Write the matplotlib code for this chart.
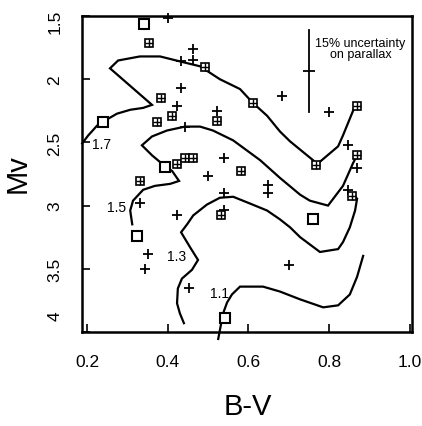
import matplotlib
matplotlib.use("Agg")
import matplotlib.pyplot as plt
import matplotlib.transforms as mtransforms

plt.rcParams['font.family'] = ['Liberation Sans', 'DejaVu Sans']

# ---- data ----
plus_bv = [0.401, 0.463, 0.433, 0.463, 0.433, 0.423, 0.522, 0.443, 0.539, 0.500,
           0.648, 0.648, 0.539, 0.331, 0.539, 0.423, 0.351, 0.344, 0.453, 0.700,
           0.683, 0.799, 0.846, 0.869, 0.846]
plus_mv = [1.516, 1.758, 1.859, 1.852, 2.070, 2.211, 2.250, 2.375, 2.625, 2.766,
           2.836, 2.898, 2.898, 2.977, 3.031, 3.078, 3.383, 3.500, 3.648, 3.469,
           2.133, 2.258, 2.523, 2.703, 2.875]

boxed_bv = [0.354, 0.492, 0.383, 0.373, 0.411, 0.522, 0.611, 0.869, 0.869, 0.767,
            0.423, 0.443, 0.463, 0.581, 0.331, 0.532, 0.856]
boxed_mv = [1.711, 1.906, 2.148, 2.336, 2.289, 2.328, 2.188, 2.211, 2.602, 2.680,
            2.672, 2.625, 2.625, 2.727, 2.805, 3.078, 2.922]

open_bv = [0.341, 0.240, 0.393, 0.324, 0.760, 0.542]
open_mv = [1.563, 2.336, 2.695, 3.242, 3.109, 3.891]

iso17_bv = [0.188, 0.203, 0.225, 0.240, 0.274, 0.307, 0.339, 0.361, 0.257, 0.277,
            0.331, 0.381, 0.430, 0.480, 0.529, 0.579, 0.611, 0.646, 0.678, 0.703,
            0.760, 0.770, 0.822, 0.834, 0.864]
iso17_mv = [2.508, 2.445, 2.367, 2.336, 2.273, 2.242, 2.227, 2.203, 1.914, 1.852,
            1.820, 1.820, 1.859, 1.898, 2.000, 2.078, 2.188, 2.289, 2.414, 2.492,
            2.641, 2.672, 2.531, 2.445, 2.211]

iso15_bv = [0.312, 0.307, 0.314, 0.339, 0.368, 0.406, 0.428, 0.411, 0.393, 0.361,
            0.336, 0.361, 0.398, 0.443, 0.480, 0.512, 0.562, 0.629, 0.678, 0.728,
            0.752, 0.797, 0.834, 0.846, 0.859, 0.869]
iso15_mv = [3.148, 3.039, 2.961, 2.875, 2.844, 2.828, 2.805, 2.727, 2.688, 2.602,
            2.523, 2.453, 2.406, 2.375, 2.375, 2.406, 2.484, 2.641, 2.781, 2.914,
            2.961, 3.000, 2.844, 2.758, 2.664, 2.602]

iso13_bv = [0.440, 0.430, 0.423, 0.425, 0.435, 0.460, 0.475, 0.455, 0.433, 0.448,
            0.463, 0.497, 0.529, 0.562, 0.604, 0.646, 0.678, 0.703, 0.728, 0.777,
            0.822, 0.834, 0.851, 0.864, 0.869, 0.856]
iso13_mv = [3.930, 3.852, 3.773, 3.656, 3.578, 3.508, 3.430, 3.328, 3.211, 3.148,
            3.078, 2.992, 2.938, 2.930, 2.984, 3.039, 3.109, 3.172, 3.250, 3.367,
            3.344, 3.289, 3.172, 3.039, 2.945, 2.914]

iso11_bv = [0.525, 0.532, 0.539, 0.547, 0.559, 0.579, 0.636, 0.678, 0.728, 0.785,
            0.822, 0.851, 0.869, 0.884]
iso11_mv = [4.055, 3.938, 3.836, 3.766, 3.703, 3.641, 3.641, 3.680, 3.742, 3.805,
            3.789, 3.703, 3.563, 3.398]

iso_labels = ["1.7", "1.5", "1.3", "1.1"]
iso_label_bv = [0.237, 0.274, 0.423, 0.529]
iso_label_mv = [2.516, 3.008, 3.398, 3.688]

err_bv = 0.7495
err_mv = 1.9375
err_lo = 1.609
err_hi = 2.258

xticks = [0.2, 0.4, 0.6, 0.8, 1.0]
xticklabels = ["0.2", "0.4", "0.6", "0.8", "1.0"]
yticks = [1.5, 2, 2.5, 3, 3.5, 4]
yticklabels = ["1.5", "2", "2.5", "3", "3.5", "4"]
# where the printed y labels sit (end labels are nudged inward in the original)
ylabel_pos = [1.54, 2.0, 2.5, 3.0, 3.5, 3.87]

# ---- figure ----
fig = plt.figure(figsize=(4.22, 4.27), dpi=100)
ax = fig.add_axes([82/422, 1 - 333/427, (412-82)/422, (333-17)/427])

for bv, mv in [(iso17_bv, iso17_mv), (iso15_bv, iso15_mv),
               (iso13_bv, iso13_mv), (iso11_bv, iso11_mv)]:
    ax.plot(bv, mv, color='black', lw=1.6, clip_on=False, solid_joinstyle='miter')

for t, x, y in zip(iso_labels, iso_label_bv, iso_label_mv):
    ax.text(x, y, t, fontsize=10, ha='center', va='center', color='black')

ax.plot(plus_bv, plus_mv, linestyle='none', marker='+', ms=7.5, mew=1.3,
        color='black', clip_on=False)
ax.plot(boxed_bv, boxed_mv, linestyle='none', marker='s', ms=6.2, mew=1.2,
        mfc='white', mec='black')
ax.plot(boxed_bv, boxed_mv, linestyle='none', marker='+', ms=6.2, mew=1.0,
        color='black')
ax.plot(open_bv, open_mv, linestyle='none', marker='s', ms=7, mew=1.5,
        mfc='white', mec='black')

# uncertainty bar
ax.plot([err_bv, err_bv], [err_lo, err_hi], color='black', lw=1.3)
ax.plot([err_bv], [err_mv], marker='_', ms=8, mew=1.3, color='black')
ax.text(0.877, 1.711, "15% uncertainty", fontsize=9, ha='center', va='center')
ax.text(0.877, 1.797, "on parallax", fontsize=9, ha='center', va='center')

ax.set_xlim(0.1876, 1.005)
ax.set_ylim(3.977, 1.508)
ax.set_xticks(xticks)
ax.set_xticklabels(xticklabels)
ax.set_yticks(yticks)
ax.set_yticklabels([])
ax.tick_params(direction='in', length=6, width=1.2, labelsize=12.5, pad=16)
for s in ax.spines.values():
    s.set_linewidth(1.8)

trans = mtransforms.blended_transform_factory(ax.transAxes, ax.transData)
for t, y in zip(yticklabels, ylabel_pos):
    ax.text(-0.082, y, t, transform=trans, rotation=90, fontsize=12.5,
            ha='center', va='center', clip_on=False)

ax.set_xlabel("B-V", fontsize=21, va='center')
ax.xaxis.set_label_coords(0.503, -0.234)
ax.set_ylabel("Mv", fontsize=21, va='center')
ax.yaxis.set_label_coords(-0.194, 0.506)

fig.savefig("out.png", dpi=100)
